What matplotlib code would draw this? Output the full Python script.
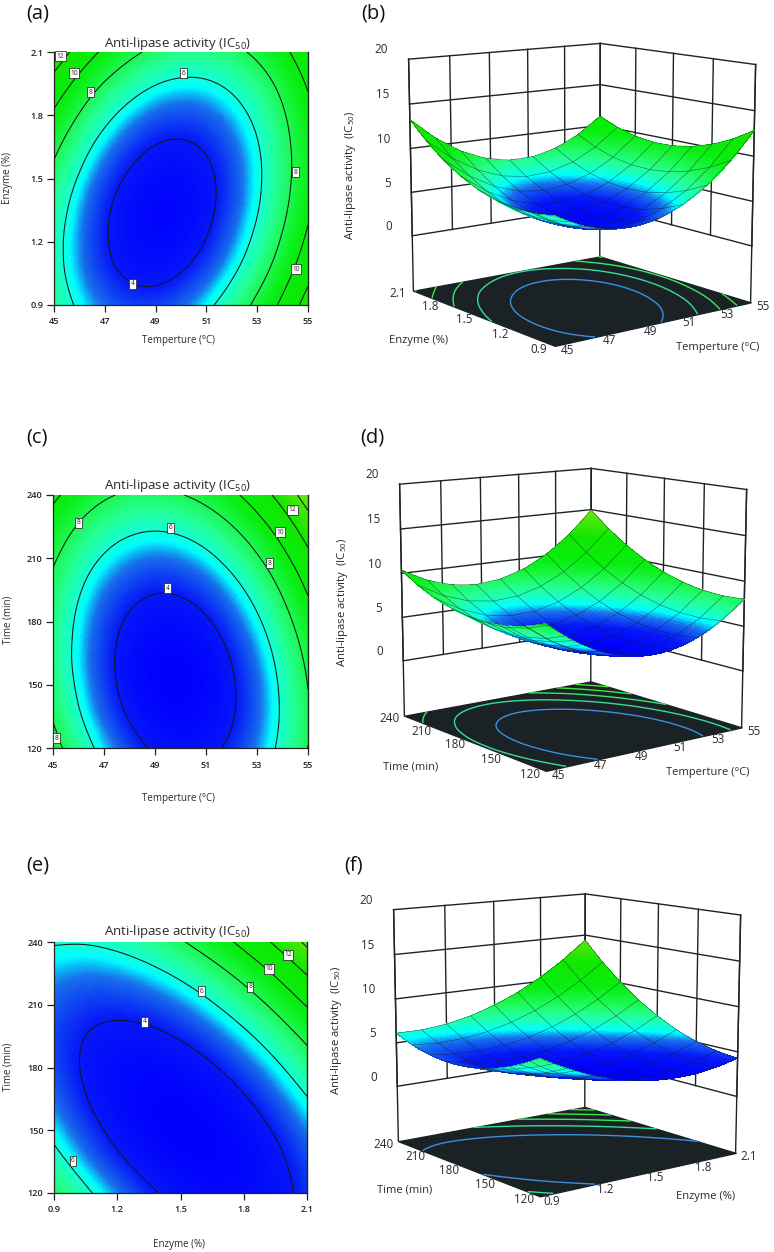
import numpy as np
import matplotlib
matplotlib.use('Agg')
import matplotlib.pyplot as plt
from matplotlib.colors import LinearSegmentedColormap, Normalize
from matplotlib.tri import Triangulation, UniformTriRefiner
from mpl_toolkits.mplot3d.art3d import Poly3DCollection

plt.rcParams['font.family'] = ['Open Sans', 'DejaVu Sans']
plt.rcParams['mathtext.fontset'] = 'custom'
plt.rcParams['mathtext.rm'] = 'Open Sans'
plt.rcParams['mathtext.default'] = 'regular'

W, H = 774, 1252

# axes values
temp_grid = [45, 46.25, 47.5, 48.75, 50, 51.25, 52.5, 53.75, 55]
enzyme_grid = [0.9, 1.05, 1.2, 1.35, 1.5, 1.65, 1.8, 1.95, 2.1]
time_grid = [120, 135, 150, 165, 180, 195, 210, 225, 240]
temp_ticks = [45, 47, 49, 51, 53, 55]
enzyme_ticks = [0.9, 1.2, 1.5, 1.8, 2.1]
time_ticks = [120, 150, 180, 210, 240]
z_ticks = [0, 5, 10, 15, 20]
contour_levels = [4, 6, 8, 10, 12, 14]
floor_levels = [5, 7, 9, 11, 13]

# IC50, rows go up the y axis
ic50_temp_enzyme = [
    [6.96, 5.51, 4.68, 4.47, 4.89, 5.94, 7.61, 9.91, 12.84],
    [6.59, 5.01, 4.05, 3.72, 4.02, 4.94, 6.49, 8.66, 11.46],
    [6.55, 4.84, 3.76, 3.30, 3.47, 4.27, 5.70, 7.75, 10.42],
    [6.84, 5.00, 3.80, 3.22, 3.26, 3.94, 5.24, 7.16, 9.71],
    [7.46, 5.50, 4.17, 3.47, 3.39, 3.94, 5.11, 6.91, 9.33],
    [8.42, 6.33, 4.88, 4.05, 3.84, 4.27, 5.31, 6.99, 9.29],
    [9.70, 7.50, 5.91, 4.96, 4.63, 4.93, 5.85, 7.40, 9.58],
    [11.32, 8.99, 7.29, 6.21, 5.75, 5.92, 6.72, 8.15, 10.20],
    [13.28, 10.82, 8.99, 7.78, 7.20, 7.25, 7.93, 9.23, 11.15],
]
ic50_temp_time = [
    [8.67, 6.52, 4.96, 3.99, 3.62, 3.83, 4.64, 6.04, 8.02],
    [7.88, 5.81, 4.34, 3.45, 3.16, 3.45, 4.34, 5.82, 7.89],
    [7.38, 5.40, 4.00, 3.19, 2.98, 3.36, 4.33, 5.89, 8.04],
    [7.17, 5.26, 3.95, 3.22, 3.09, 3.55, 4.60, 6.24, 8.47],
    [7.24, 5.42, 4.18, 3.54, 3.49, 4.03, 5.16, 6.88, 9.19],
    [7.60, 5.85, 4.70, 4.14, 4.17, 4.79, 6.00, 7.80, 10.20],
    [8.24, 6.58, 5.51, 5.02, 5.13, 5.84, 7.13, 9.01, 11.49],
    [9.17, 7.59, 6.60, 6.20, 6.39, 7.17, 8.54, 10.51, 13.06],
    [10.38, 8.88, 7.97, 7.65, 7.93, 8.79, 10.24, 12.29, 14.93],
]
ic50_enzyme_time = [
    [7.76, 6.28, 5.10, 4.21, 3.63, 3.35, 3.36, 3.68, 4.30],
    [6.55, 5.25, 4.25, 3.55, 3.15, 3.05, 3.25, 3.75, 4.55],
    [5.62, 4.51, 3.69, 3.17, 2.96, 3.04, 3.43, 4.11, 5.09],
    [4.98, 4.05, 3.42, 3.09, 3.05, 3.32, 3.89, 4.76, 5.92],
    [4.63, 3.88, 3.43, 3.28, 3.44, 3.89, 4.64, 5.69, 7.04],
    [4.57, 4.00, 3.74, 3.77, 4.11, 4.74, 5.67, 6.91, 8.44],
    [4.79, 4.41, 4.33, 4.55, 5.06, 5.88, 7.00, 8.42, 10.13],
    [5.30, 5.10, 5.21, 5.61, 6.31, 7.31, 8.61, 10.21, 12.11],
    [6.10, 6.09, 6.37, 6.96, 7.84, 9.03, 10.51, 12.30, 14.38],
]

# contour label positions
labels_a = [(45.25, 2.08, '12'), (45.78, 2.0, '10'), (46.43, 1.91, '8'), (50.1, 2.0, '6'),
            (48.1, 1.0, '4'), (54.5, 1.53, '8'), (54.53, 1.07, '10')]
labels_c = [(46.0, 226.9, '8'), (49.6, 224.5, '6'), (49.5, 195.7, '4'), (53.5, 207.6, '8'),
            (53.9, 222.3, '10'), (54.4, 233, '12'), (45.15, 124.7, '8')]
labels_e = [(2.01, 233.8, '12'), (1.92, 227.1, '10'), (1.83, 218.5, '8'), (1.6, 216.5, '6'),
            (1.33, 201.9, '4'), (0.99, 135.4, '6')]

stops = [(3, '#0000ff'), (4, '#0618f8'), (5, '#1870ec'), (5.6, '#00ffff'), (6.2, '#18ffc8'),
         (7, '#24ff90'), (8, '#1cf850'), (9.5, '#08ee10'), (12, '#10e800'), (15, '#70e810')]
norm = Normalize(3, 15)
cmap = LinearSegmentedColormap.from_list('de', [(norm(v), c) for v, c in stops])

IC50 = 'Anti-lipase activity  (IC$_{50}$)'
TITLE = 'Anti-lipase activity (IC$_{50}$)'
fig = plt.figure(figsize=(W / 100, H / 100), dpi=100, facecolor='white')


def ftext(x, y, s, **kw):
    # pixel position, top left origin
    kw.setdefault('ha', 'center')
    kw.setdefault('va', 'center')
    kw.setdefault('color', '#2a2a2a')
    fig.text(x / W, 1 - y / H, s, **kw)


def refine(xs, ys, table, subdiv):
    X, Y = np.meshgrid(xs, ys)
    tri = Triangulation(X.ravel(), Y.ravel())
    return UniformTriRefiner(tri).refine_field(np.array(table).ravel(), subdiv=subdiv)


def contour_panel(x0, y0, x1, y1, xs, ys, table, xticks, yticks, labels, xfmt, yfmt):
    ax = fig.add_axes([x0 / W, 1 - y1 / H, (x1 - x0) / W, (y1 - y0) / H])
    tri_ref, z_ref = refine(xs, ys, table, 4)
    ax.tripcolor(tri_ref, z_ref, shading='gouraud', cmap=cmap, norm=norm, rasterized=True)
    ax.tricontour(tri_ref, z_ref, levels=contour_levels, colors='#101818', linewidths=0.75)
    for x, y, s in labels:
        ax.text(x, y, s, fontsize=4.8, ha='center', va='center', color='#222',
                bbox=dict(fc='white', ec='#333', lw=0.6, pad=1.0))
    ax.set_xlim(xs[0], xs[-1])
    ax.set_ylim(ys[0], ys[-1])
    ax.set_xticks(xticks, [xfmt % t for t in xticks])
    ax.set_yticks(yticks, [yfmt % t for t in yticks])
    ax.tick_params(length=5, width=0.9, labelsize=6.6, pad=2.5, color='#222', labelcolor='#222')
    ax.tick_params(axis='x', pad=4)
    for t in ax.get_xticklabels() + ax.get_yticklabels():
        t.set_fontweight('semibold')
    for s in ax.spines.values():
        s.set_linewidth(0.9)
        s.set_color('#222')
    ax.spines['top'].set_visible(False)
    ax.spines['right'].set_linewidth(1.0)
    return ax


def surface_panel(cx, cy, xs, ys, table, xticks, yticks, xfmt, yfmt):
    S = 420
    ax = fig.add_axes([(cx - S / 2) / W, 1 - (cy + S / 2) / H, S / W, S / H],
                      projection='3d', computed_zorder=False)
    ax.set_axis_off()
    ax.view_init(elev=11, azim=-127.5)
    ax.set_proj_type('persp', focal_length=0.7)
    ax.set_box_aspect((1, 1, 0.98), zoom=0.97)
    floor = -6.4
    x0, x1, y0, y1 = xs[0], xs[-1], ys[0], ys[-1]
    ax.set_xlim(x0, x1)
    ax.set_ylim(y0, y1)
    ax.set_zlim(floor, 20)
    dx, dy = x1 - x0, y1 - y0
    line = dict(color='#1c2426', lw=1.0, zorder=1)

    # back walls
    for t in xticks:
        ax.plot([t, t], [y1, y1], [0, 20], **line)
    for t in yticks:
        ax.plot([x1, x1], [t, t], [0, 20], **line)
    for z in z_ticks:
        ax.plot([x0, x1, x1], [y1, y1, y0], [z, z, z], **line)
    for x, y in [(x0, y1), (x1, y1), (x1, y0)]:
        ax.plot([x, x], [y, y], [floor, 20], **line)

    # floor with its contours
    corners = [(x0, y0, floor), (x1, y0, floor), (x1, y1, floor), (x0, y1, floor)]
    ax.add_collection3d(Poly3DCollection([corners], facecolor='#1a2226', edgecolor='#1a2226',
                                         zorder=2))
    tri_line, z_line = refine(xs, ys, table, 3)
    ax.tricontour(tri_line, z_line, levels=floor_levels, zdir='z', offset=floor, zorder=3,
                  colors=['#3a8fe0', '#38dc94', '#38e860', '#38e840', '#38e830'],
                  linewidths=1.0)

    # surface
    tri_ref, z_ref = refine(xs, ys, table, 3)
    ax.plot_trisurf(tri_ref, z_ref, cmap=cmap, norm=norm, linewidth=0, antialiased=False,
                    shade=False, zorder=4)
    X, Y = np.meshgrid(xs, ys)
    ax.plot_wireframe(X, Y, np.array(table), color='#0c1c20', lw=0.35, alpha=0.7, zorder=5)

    # tick labels
    for t in xticks:
        ax.text(t, y0 - 0.075 * dy, floor, xfmt % t, fontsize=8.4, ha='center', va='center',
                color='#2a2a2a', zorder=6)
    for t in yticks:
        ax.text(x0 - 0.075 * dx, t, floor, yfmt % t, fontsize=8.4, ha='center', va='center',
                color='#2a2a2a', zorder=6)
    for z in z_ticks:
        ax.text(x0 - 0.06 * dx, y1 + 0.06 * dy, z + 1, '%d' % z, fontsize=8.4, ha='right',
                va='center', color='#2a2a2a', zorder=6)
    return ax


# contour plots
contour_panel(54, 52, 308, 305, temp_grid, enzyme_grid, ic50_temp_enzyme, temp_ticks,
              enzyme_ticks, labels_a, '%d', '%.1f')
contour_panel(53, 495, 308, 748, temp_grid, time_grid, ic50_temp_time, temp_ticks,
              time_ticks, labels_c, '%d', '%d')
contour_panel(54, 942, 307, 1193, enzyme_grid, time_grid, ic50_enzyme_time, enzyme_ticks,
              time_ticks, labels_e, '%.1f', '%d')

# surface plots
surface_panel(574, 186.5, temp_grid, enzyme_grid, ic50_temp_enzyme, temp_ticks, enzyme_ticks, '%d', '%.1f')
surface_panel(565, 611.5, temp_grid, time_grid, ic50_temp_time, temp_ticks, time_ticks, '%d', '%d')
surface_panel(559, 1037, enzyme_grid, time_grid, ic50_enzyme_time, enzyme_ticks, time_ticks, '%.1f', '%d')

# panel letters
for x, y, s in [(38, 14, '(a)'), (373, 13, '(b)'), (37, 437, '(c)'), (372, 437, '(d)'),
                (38, 865, '(e)'), (354, 865, '(f)')]:
    ftext(x, y, s, fontsize=14.5, color='#111')

# titles
for y in [43, 486, 932]:
    ftext(178, y, TITLE, fontsize=9.5)

# 2d axis labels
ftext(178, 340, 'Temperture (°C)', fontsize=7)
ftext(178, 799, 'Temperture (°C)', fontsize=7)
ftext(179, 1244, 'Enzyme (%)', fontsize=7)
ftext(8, 178, 'Enzyme (%)', fontsize=7, rotation=90)
ftext(8, 620, 'Time (min)', fontsize=7, rotation=90)
ftext(8, 1067, 'Time (min)', fontsize=7, rotation=90)

# 3d axis labels
ftext(419, 341, 'Enzyme (%)', fontsize=8)
ftext(718, 348, 'Temperture (°C)', fontsize=8)
ftext(411, 767, 'Time (min)', fontsize=8)
ftext(708, 773, 'Temperture (°C)', fontsize=8)
ftext(405, 1190, 'Time (min)', fontsize=8)
ftext(706, 1196, 'Enzyme (%)', fontsize=8)
ftext(351, 175, IC50, fontsize=8.2, rotation=90)
ftext(343, 602, IC50, fontsize=8.2, rotation=90)
ftext(337, 1030, IC50, fontsize=8.2, rotation=90)

fig.savefig('out.png', dpi=100)
